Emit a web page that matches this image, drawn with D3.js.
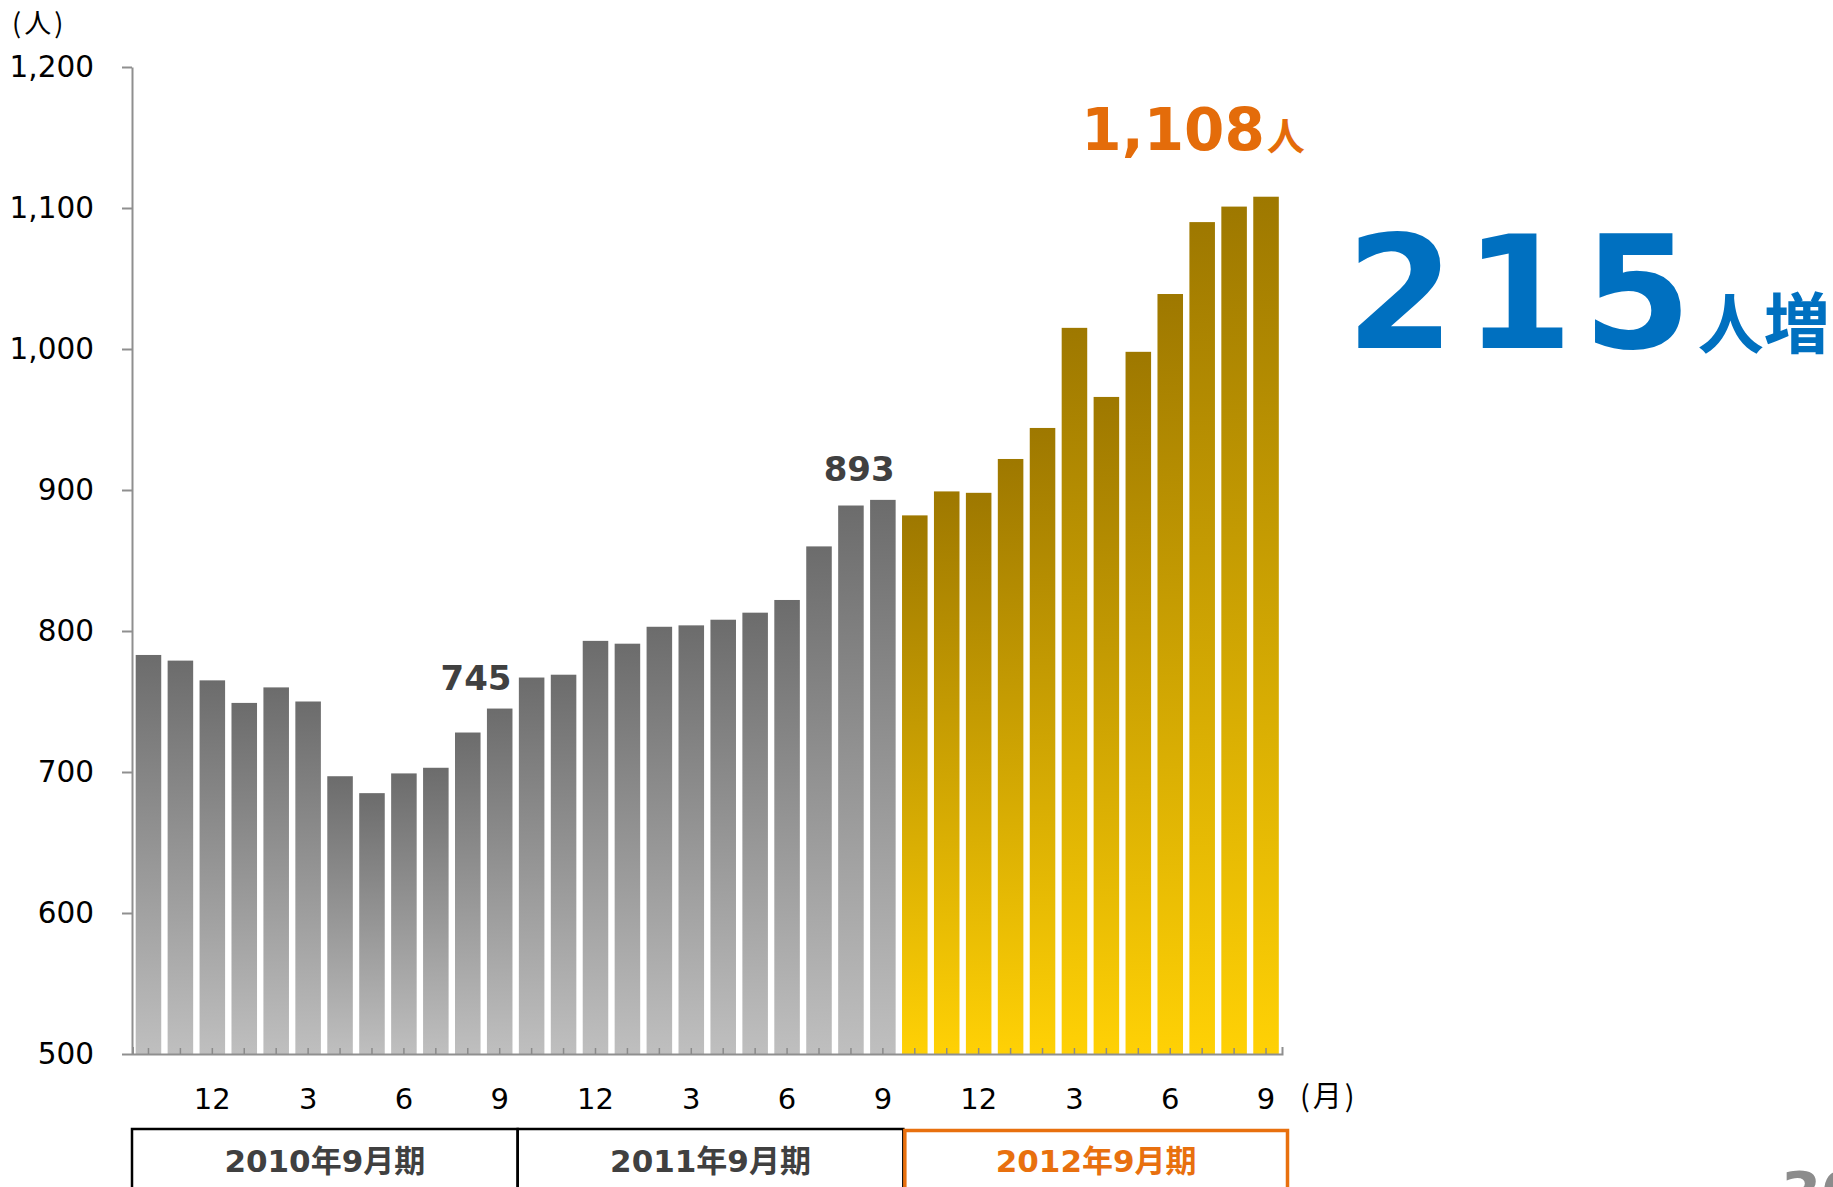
<!DOCTYPE html>
<html>
<head>
<meta charset="utf-8">
<script src="https://cdn.jsdelivr.net/npm/d3@7"></script>
<style>
  html, body { margin: 0; padding: 0; background: #fff; overflow: hidden; }
</style>
</head>
<body>
<div id="chart"></div>
<script>
// months from Oct 2009 to Sep 2012
const months = [10, 11, 12, 1, 2, 3, 4, 5, 6, 7, 8, 9,
                10, 11, 12, 1, 2, 3, 4, 5, 6, 7, 8, 9,
                10, 11, 12, 1, 2, 3, 4, 5, 6, 7, 8, 9]
const labeledMonths = [12, 3, 6, 9]
const values = [783, 779, 765, 749, 760, 750, 697, 685, 699, 703, 728, 745,
                767, 769, 793, 791, 803, 804, 808, 813, 822, 860, 889, 893,
                882, 899, 898, 922, 944, 1015, 966, 998, 1039, 1090, 1101, 1108]
const periods = ["2010年9月期", "2011年9月期", "2012年9月期"]
const yTicks = [500, 600, 700, 800, 900, 1000, 1100, 1200]
const callouts = [11, 23]   // 745, 893

const W = 1833, H = 1187
const NUM = "'DejaVu Sans', 'Noto Sans CJK JP', sans-serif"
const CJK = "'Noto Sans CJK JP', sans-serif"

const svg = d3.select("#chart").append("svg")
  .attr("width", W)
  .attr("height", H)

const defs = svg.append("defs")
const grayGrad = defs.append("linearGradient").attr("id", "gray")
  .attr("x1", 0).attr("y1", 0).attr("x2", 0).attr("y2", 1)
grayGrad.append("stop").attr("offset", "0%").attr("stop-color", "#6c6c6c")
grayGrad.append("stop").attr("offset", "100%").attr("stop-color", "#bfbfbf")
const goldGrad = defs.append("linearGradient").attr("id", "gold")
  .attr("x1", 0).attr("y1", 0).attr("x2", 0).attr("y2", 1)
goldGrad.append("stop").attr("offset", "0%").attr("stop-color", "#9e7800")
goldGrad.append("stop").attr("offset", "100%").attr("stop-color", "#ffd105")

const x = d3.scaleBand()
  .domain(d3.range(values.length))
  .range([132.5, 1282])
  .paddingInner(0.2)
  .paddingOuter(0.1)

const y = d3.scaleLinear()
  .domain([500, 1200])
  .range([1054, 67])

// bars
svg.append("g").selectAll("rect")
  .data(values)
  .enter()
  .append("rect")
  .attr("x", (d, i) => x(i))
  .attr("y", d => y(d))
  .attr("width", x.bandwidth())
  .attr("height", d => y(500) - y(d))
  .attr("fill", (d, i) => i < 24 ? "url(#gray)" : "url(#gold)")

// y axis
const yAxis = svg.append("g")
  .attr("transform", "translate(132,0)")
  .call(d3.axisLeft(y).tickValues(yTicks).tickSizeInner(10).tickSizeOuter(0)
    .tickPadding(28).tickFormat(d3.format(",")))
yAxis.select(".domain").attr("stroke", "#8f8f8f").attr("stroke-width", 2)
yAxis.selectAll(".tick line").attr("stroke", "#8f8f8f").attr("stroke-width", 2)
yAxis.selectAll(".tick text")
  .attr("font-family", NUM).attr("font-size", 29.5).attr("fill", "#000")

// x axis, ticks point up into the bars
const xAxis = svg.append("g")
  .attr("transform", "translate(0,1054)")
  .call(d3.axisBottom(x).tickSizeInner(-6).tickSizeOuter(-7).tickPadding(34)
    .tickFormat(i => labeledMonths.includes(months[i]) ? months[i] : ""))
xAxis.select(".domain").attr("stroke", "#8f8f8f").attr("stroke-width", 2)
xAxis.selectAll(".tick line").attr("stroke", "#8a8a8a").attr("stroke-width", 1.5)
xAxis.selectAll(".tick text")
  .attr("font-family", NUM).attr("font-size", 29).attr("fill", "#000")

// unit labels
svg.append("text")
  .attr("x", 12).attr("y", 33)
  .attr("font-family", CJK).attr("font-size", 27).attr("fill", "#000")
  .attr("letter-spacing", 3)
  .text("(人)")
svg.append("text")
  .attr("x", 1300).attr("y", 1107)
  .attr("font-family", CJK).attr("font-size", 29).attr("fill", "#000")
  .attr("letter-spacing", 3)
  .text("(月)")

// value callouts
svg.append("g").selectAll("text")
  .data(callouts)
  .enter()
  .append("text")
  .attr("x", i => x(i) + x.bandwidth() - 1)
  .attr("y", i => y(values[i]) - 19)
  .attr("text-anchor", "end")
  .attr("font-family", NUM).attr("font-size", 34).attr("font-weight", "bold")
  .attr("fill", "#404040")
  .text(i => values[i])

const last = values.length - 1
const topLabel = svg.append("text")
  .attr("x", x(last) + x.bandwidth() + 26)
  .attr("y", y(values[last]) - 47)
  .attr("text-anchor", "end")
  .attr("fill", "#e46c0a").attr("font-weight", "bold")
topLabel.append("tspan").attr("font-family", NUM).attr("font-size", 58)
  .text(d3.format(",")(values[last]))
topLabel.append("tspan").attr("font-family", CJK).attr("font-size", 38).attr("dx", 2)
  .text("人")

const increase = values[last] - values[23]
const incLabel = svg.append("text")
  .attr("x", 1346).attr("y", 348)
  .attr("fill", "#0070c0").attr("font-weight", "bold")
incLabel.append("tspan").attr("font-family", NUM).attr("font-size", 156)
  .attr("letter-spacing", 10)
  .text(increase)
incLabel.append("tspan").attr("font-family", CJK).attr("font-size", 66).attr("dx", -4)
  .text("人増")

// fiscal period boxes
const px = d3.scaleLinear().domain([0, 36]).range([132, 1289])
const boxes = svg.append("g")
periods.forEach((p, k) => {
  const x0 = px(k * 12), x1 = px(k * 12 + 12)
  const isLast = k === periods.length - 1
  const c = isLast ? "#e8700e" : "#000"
  if (!isLast) {
    boxes.append("path")
      .attr("d", `M${x0},${H + 5}V1129H${x1}V${H + 5}`)
      .attr("fill", "none").attr("stroke", c).attr("stroke-width", 2.5)
  }
  boxes.append("text")
    .attr("x", (x0 + x1) / 2).attr("y", 1172)
    .attr("text-anchor", "middle")
    .attr("font-family", NUM).attr("font-size", 31).attr("font-weight", "bold")
    .attr("fill", isLast ? "#e8700e" : "#404040")
    .text(p)
})
boxes.append("path")
  .attr("d", `M${px(24) + 1.5},${H + 5}V1130.5H${px(36) - 1.5}V${H + 5}`)
  .attr("fill", "none").attr("stroke", "#e8700e").attr("stroke-width", 3.5)

// page number, cut by the bottom edge as in the slide
svg.append("text")
  .attr("x", 1781).attr("y", 1214)
  .attr("font-family", NUM).attr("font-size", 58).attr("font-weight", "bold")
  .attr("fill", "#8c8c8c")
  .text("30")
</script>
</body>
</html>
